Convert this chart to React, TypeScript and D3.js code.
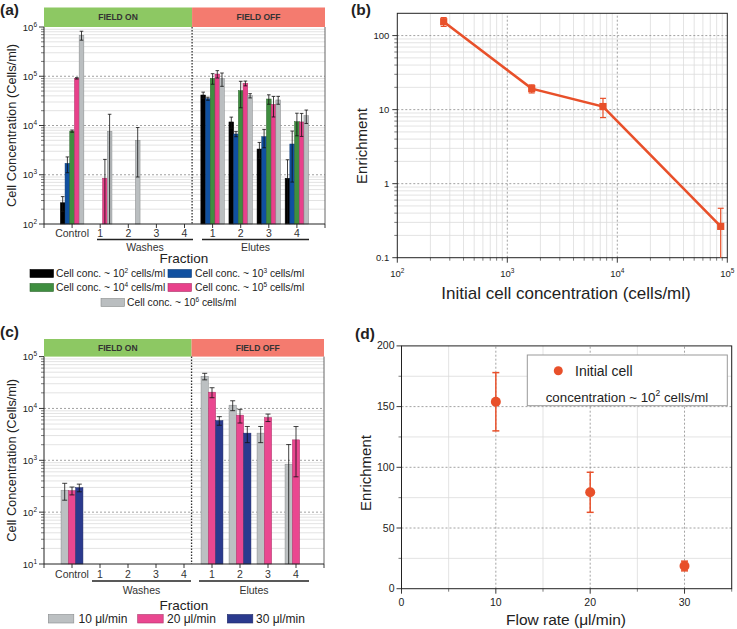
import React from 'react';
import * as d3 from 'd3';

// ---------- DATA ----------
const fractionLabels = ["Control", "1", "2", "3", "4", "1", "2", "3", "4"];
const groupLabels = ["Washes", "Elutes"];
const fieldLabels = ["FIELD ON", "FIELD OFF"];

// Panel (a): cell concentration by initial concentration (cells/ml)
const concExponents = ["2", "3", "4", "5", "6"];
const conc1e2 = [270, null, null, null, null, 41600, 11800, 3330, 847];
const conc1e2Err = [90, null, null, null, null, 6000, 3000, 1200, 1170];
const conc1e3 = [1700, null, null, null, null, 35000, 6720, 5930, 4210];
const conc1e3Err = [600, null, null, null, null, 2500, 800, 2400, 3500];
const conc1e4 = [7700, null, null, null, null, 90800, 50900, 34500, 11960];
const conc1e4Err = [400, null, null, null, null, 22000, 28000, 7500, 5800];
const conc1e5 = [90700, 850, null, null, null, 111000, 71800, 26900, 11800];
const conc1e5Err = [3000, 1200, null, null, null, 19000, 8000, 12000, 5800];
const conc1e6 = [680000, 7600, 5000, null, null, 89400, 40300, 33000, 15800];
const conc1e6Err = [140000, 9300, 4100, null, null, 27000, 4000, 6000, 4800];

// Panel (b): enrichment vs initial concentration
const initialConc = [264, 1667, 7410, 87100];
const enrichConc = [154, 19.2, 11.0, 0.265];
const enrichConcErr = [21, 2.4, 3.2, 0.2];

// Panel (c): cell concentration by flow rate
const flowLabels = ["10 \u03bcl/min", "20 \u03bcl/min", "30 \u03bcl/min"];
const flow10 = [265, null, null, null, null, 41600, 11560, 3340, 841];
const flow10Err = [95, null, null, null, null, 6000, 2500, 1150, 1170];
const flow20 = [260, null, null, null, null, 20600, 7430, 6690, 2480];
const flow20Err = [45, null, null, null, null, 4500, 2200, 1100, 2000];
const flow30 = [297, null, null, null, null, 5840, 3340, null, null];
const flow30Err = [50, null, null, null, null, 1100, 1150, null, null];

// Panel (d): enrichment vs flow rate
const flowRates = [10, 20, 30];
const enrichFlow = [154, 79.4, 18.7];
const enrichFlowErr = [24, 16.5, 4];

// ---------- STYLE ----------
const FONT = "'Liberation Sans', Arial, Helvetica, sans-serif";
const colorsA = ["#000000", "#1050a0", "#3f8e40", "#e8418b", "#babec0"];
const colorsC = ["#bcc0c2", "#ea4790", "#2b3a8e"];
const ORANGE = "#e8502a";
const GREEN_BAND = "#8dc863";
const RED_BAND = "#f47b6f";
const MINOR = "#dcdcdc";
const MAJOR = "#8a8a8a";

function minorLogValues(lo: number, hi: number) {
  const out: number[] = [];
  for (let d = Math.floor(Math.log10(lo)); d <= Math.ceil(Math.log10(hi)); d++) {
    for (let m = 2; m <= 9; m++) {
      const v = m * Math.pow(10, d);
      if (v > lo && v < hi) out.push(v);
    }
  }
  return out;
}
function decades(lo: number, hi: number) {
  const out: number[] = [];
  for (let d = Math.ceil(Math.log10(lo) - 1e-9); d <= Math.floor(Math.log10(hi) + 1e-9); d++) out.push(Math.pow(10, d));
  return out;
}

function SupText(props: any) {
  const { x, y, base, exp, after, fs, anchor, supFs, fill, weight } = props;
  const sh = fs * 0.42;
  return (
    <text x={x} y={y} fontSize={fs} textAnchor={anchor || 'start'} fill={fill || '#222'} fontFamily={FONT} fontWeight={weight}>
      {base}
      <tspan dy={-sh} fontSize={supFs || fs * 0.65}>{exp}</tspan>
      {after ? <tspan dy={sh}>{after}</tspan> : <tspan dy={sh}>{''}</tspan>}
    </text>
  );
}

function BarPanel(props: any) {
  const { cfg, series, errors, colors } = props;
  const x = d3.scaleLinear().domain([-1, 9]).range([cfg.x0, cfg.x1]);
  const y = d3.scaleLog().domain(cfg.dom).range([cfg.yBot, cfg.yTop]);
  const sepX = x(cfg.sepIdx);
  const n = series.length;
  const majors = decades(cfg.dom[0], cfg.dom[1]);
  const minors = minorLogValues(cfg.dom[0], cfg.dom[1]);
  const [dmin] = cfg.dom;
  return (
    <g fontFamily={FONT}>
      {/* bands */}
      <rect x={cfg.x0} y={cfg.bandTop} width={sepX - cfg.x0} height={cfg.yTop - cfg.bandTop} fill={GREEN_BAND} />
      <rect x={sepX} y={cfg.bandTop} width={cfg.x1 - sepX} height={cfg.yTop - cfg.bandTop} fill={RED_BAND} />
      <text x={(cfg.x0 + sepX) / 2} y={(cfg.bandTop + cfg.yTop) / 2 + 3} fontSize={8.5} fontWeight="bold" textAnchor="middle" fill="#333">{fieldLabels[0]}</text>
      <text x={(sepX + cfg.x1) / 2} y={(cfg.bandTop + cfg.yTop) / 2 + 3} fontSize={8.5} fontWeight="bold" textAnchor="middle" fill="#333">{fieldLabels[1]}</text>
      {/* grid */}
      {minors.map((v, i) => <line key={'mn' + i} x1={cfg.x0} x2={cfg.x1} y1={y(v)} y2={y(v)} stroke={MINOR} strokeWidth={0.8} />)}
      {majors.filter(v => v > dmin && v < cfg.dom[1]).map((v, i) => <line key={'mj' + i} x1={cfg.x0} x2={cfg.x1} y1={y(v)} y2={y(v)} stroke={MAJOR} strokeWidth={0.8} strokeDasharray="2,2" />)}
      {/* bars */}
      {series.map((s: any[], k: number) => s.map((v: number | null, i: number) => {
        if (v == null) return null;
        const bx = x(i) + (k - n / 2) * cfg.barW;
        return <rect key={'b' + k + '_' + i} x={bx} y={y(v)} width={cfg.barW} height={cfg.yBot - y(v)} fill={colors[k]} stroke={d3.color(colors[k])!.darker(0.9).toString()} strokeWidth={0.5} />;
      }))}
      {/* error bars */}
      {series.map((s: any[], k: number) => s.map((v: number | null, i: number) => {
        const e = errors[k][i];
        if (v == null || e == null) return null;
        const cx = x(i) + (k - n / 2 + 0.5) * cfg.barW;
        const yt = y(v + e);
        const low = v - e;
        const yb = low > dmin ? y(low) : cfg.yBot;
        const c = cfg.capW / 2;
        return (
          <g key={'e' + k + '_' + i} stroke="#111" strokeWidth={0.8}>
            <line x1={cx} x2={cx} y1={yt} y2={yb} />
            <line x1={cx - c} x2={cx + c} y1={yt} y2={yt} />
            {low > dmin ? <line x1={cx - c} x2={cx + c} y1={yb} y2={yb} /> : null}
          </g>
        );
      }))}
      {/* separator */}
      <line x1={sepX} x2={sepX} y1={cfg.yTop} y2={cfg.yBot} stroke="#333" strokeWidth={1.3} strokeDasharray="1.5,1.5" />
      {/* frame */}
      <line x1={cfg.x1} x2={cfg.x1} y1={cfg.yTop} y2={cfg.yBot} stroke="#555" strokeWidth={0.9} />
      <line x1={cfg.x0} x2={cfg.x0} y1={cfg.yTop} y2={cfg.yBot} stroke="#222" strokeWidth={1} />
      <line x1={cfg.x0} x2={cfg.x1} y1={cfg.yBot} y2={cfg.yBot} stroke="#222" strokeWidth={1} />
      {/* y ticks */}
      {majors.map((v, i) => (
        <g key={'yt' + i}>
          <line x1={cfg.x0 - 5} x2={cfg.x0} y1={y(v)} y2={y(v)} stroke="#222" strokeWidth={0.9} />
          <SupText x={cfg.x0 - 7} y={y(v) + 3.5} base="10" exp={String(Math.round(Math.log10(v)))} fs={9.5} supFs={6.5} anchor="end" />
        </g>
      ))}
      {minors.map((v, i) => <line key={'ym' + i} x1={cfg.x0 - 3} x2={cfg.x0} y1={y(v)} y2={y(v)} stroke="#222" strokeWidth={0.6} />)}
      {/* x ticks */}
      {d3.range(-1, 10).map(i => <line key={'xt' + i} x1={x(i)} x2={x(i)} y1={cfg.yBot} y2={cfg.yBot + 4} stroke="#222" strokeWidth={0.9} />)}
      {fractionLabels.map((l, i) => <text key={'xl' + i} x={x(i)} y={cfg.tickLabelY} fontSize={10.5} textAnchor="middle" fill="#333">{l}</text>)}
      {/* group underlines */}
      <line x1={cfg.washes[0]} x2={cfg.washes[1]} y1={cfg.lineY} y2={cfg.lineY} stroke="#222" strokeWidth={1.6} />
      <line x1={cfg.elutes[0]} x2={cfg.elutes[1]} y1={cfg.lineY} y2={cfg.lineY} stroke="#222" strokeWidth={1.6} />
      <text x={(cfg.washes[0] + cfg.washes[1]) / 2} y={cfg.groupLabelY} fontSize={10.5} textAnchor="middle" fill="#333">{groupLabels[0]}</text>
      <text x={(cfg.elutes[0] + cfg.elutes[1]) / 2} y={cfg.groupLabelY} fontSize={10.5} textAnchor="middle" fill="#333">{groupLabels[1]}</text>
      <text x={184} y={cfg.fractionY} fontSize={13.5} textAnchor="middle" fill="#222">Fraction</text>
      {/* y title */}
      <text transform={`translate(${cfg.yTitleX},${(cfg.yTop + cfg.yBot) / 2}) rotate(-90)`} fontSize={12.8} textAnchor="middle" fill="#222">Cell Concentration (Cells/ml)</text>
    </g>
  );
}

function PanelB() {
  const x = d3.scaleLog().domain([100, 1e5]).range([397.3, 727.3]);
  const y = d3.scaleLog().domain([0.1, 200]).range([257.7, 13.3]);
  const [x0, x1] = x.range();
  const [y0, y1] = y.range();
  const xMin = minorLogValues(100, 1e5);
  const yMin = minorLogValues(0.1, 200);
  const xMaj = decades(100, 1e5);
  const yMaj = decades(0.1, 200);
  const pts = initialConc.map((c, i) => [x(c), y(enrichConc[i])] as [number, number]);
  const line = d3.line()(pts);
  return (
    <g fontFamily={FONT}>
      {xMin.map((v, i) => <line key={'xm' + i} x1={x(v)} x2={x(v)} y1={y0} y2={y1} stroke={MINOR} strokeWidth={0.8} />)}
      {yMin.map((v, i) => <line key={'ym' + i} x1={x0} x2={x1} y1={y(v)} y2={y(v)} stroke={MINOR} strokeWidth={0.8} />)}
      {xMaj.slice(1, -1).map((v, i) => <line key={'xj' + i} x1={x(v)} x2={x(v)} y1={y0} y2={y1} stroke={MAJOR} strokeWidth={0.8} strokeDasharray="2,2" />)}
      {yMaj.slice(1).map((v, i) => <line key={'yj' + i} x1={x0} x2={x1} y1={y(v)} y2={y(v)} stroke={MAJOR} strokeWidth={0.8} strokeDasharray="2,2" />)}
      <rect x={x0} y={y1} width={x1 - x0} height={y0 - y1} fill="none" stroke="#222" strokeWidth={1} />
      {xMaj.map((v, i) => (
        <g key={'xt' + i}>
          <line x1={x(v)} x2={x(v)} y1={y0} y2={y0 + 5} stroke="#222" strokeWidth={0.9} />
          <SupText x={x(v)} y={277} base="10" exp={String(Math.round(Math.log10(v)))} fs={9.5} supFs={6.5} anchor="middle" />
        </g>
      ))}
      {xMin.map((v, i) => <line key={'xtm' + i} x1={x(v)} x2={x(v)} y1={y0} y2={y0 + 3} stroke="#222" strokeWidth={0.6} />)}
      {yMaj.map((v, i) => (
        <g key={'yt' + i}>
          <line x1={x0 - 5} x2={x0} y1={y(v)} y2={y(v)} stroke="#222" strokeWidth={0.9} />
          <text x={x0 - 8} y={y(v) + 3.3} fontSize={9.5} textAnchor="end" fill="#222">{v < 1 ? '0.1' : String(v)}</text>
        </g>
      ))}
      {yMin.map((v, i) => <line key={'ytm' + i} x1={x0 - 3} x2={x0} y1={y(v)} y2={y(v)} stroke="#222" strokeWidth={0.6} />)}
      <path d={line || ''} fill="none" stroke={ORANGE} strokeWidth={2.6} />
      {initialConc.map((c, i) => {
        const v = enrichConc[i], e = enrichConcErr[i];
        const cx = x(c);
        const yt = y(v + e);
        const low = v - e;
        const yb = low > 0.1 ? y(low) : y0;
        return (
          <g key={'p' + i}>
            <g stroke={ORANGE} strokeWidth={1.2}>
              <line x1={cx} x2={cx} y1={yt} y2={yb} />
              <line x1={cx - 3} x2={cx + 3} y1={yt} y2={yt} />
              {low > 0.1 ? <line x1={cx - 3} x2={cx + 3} y1={yb} y2={yb} /> : null}
            </g>
            <rect x={cx - 3.6} y={y(v) - 3.6} width={7.2} height={7.2} fill={ORANGE} />
          </g>
        );
      })}
      <text x={566} y={298.5} fontSize={17} textAnchor="middle" fill="#222">Initial cell concentration (cells/ml)</text>
      <text transform={`translate(367,146) rotate(-90)`} fontSize={15} textAnchor="middle" fill="#222">Enrichment</text>
    </g>
  );
}

function PanelD() {
  const x = d3.scaleLinear().domain([0, 35]).range([401.5, 731.7]);
  const y = d3.scaleLinear().domain([0, 200]).range([588.7, 345.9]);
  const [x0, x1] = x.range();
  const [y0, y1] = y.range();
  const xMaj = [0, 10, 20, 30];
  const xMin = [5, 15, 25, 35];
  const yMaj = [0, 50, 100, 150, 200];
  const yMin = [25, 75, 125, 175];
  return (
    <g fontFamily={FONT}>
      {xMin.map((v, i) => <line key={'xm' + i} x1={x(v)} x2={x(v)} y1={y0} y2={y1} stroke={MINOR} strokeWidth={0.8} />)}
      {yMin.map((v, i) => <line key={'ym' + i} x1={x0} x2={x1} y1={y(v)} y2={y(v)} stroke={MINOR} strokeWidth={0.8} />)}
      {xMaj.slice(1).map((v, i) => <line key={'xj' + i} x1={x(v)} x2={x(v)} y1={y0} y2={y1} stroke={MAJOR} strokeWidth={0.8} strokeDasharray="2,2" />)}
      {yMaj.slice(1, -1).map((v, i) => <line key={'yj' + i} x1={x0} x2={x1} y1={y(v)} y2={y(v)} stroke={MAJOR} strokeWidth={0.8} strokeDasharray="2,2" />)}
      <rect x={x0} y={y1} width={x1 - x0} height={y0 - y1} fill="none" stroke="#222" strokeWidth={1} />
      {xMaj.map((v, i) => (
        <g key={'xt' + i}>
          <line x1={x(v)} x2={x(v)} y1={y0} y2={y0 + 5} stroke="#222" strokeWidth={0.9} />
          <text x={x(v)} y={606} fontSize={10.5} textAnchor="middle" fill="#222">{v}</text>
        </g>
      ))}
      {xMin.map((v, i) => <line key={'xtm' + i} x1={x(v)} x2={x(v)} y1={y0} y2={y0 + 3} stroke="#222" strokeWidth={0.6} />)}
      {yMaj.map((v, i) => (
        <g key={'yt' + i}>
          <line x1={x0 - 5} x2={x0} y1={y(v)} y2={y(v)} stroke="#222" strokeWidth={0.9} />
          <text x={x0 - 7} y={y(v) + 3.5} fontSize={10.5} textAnchor="end" fill="#222">{v}</text>
        </g>
      ))}
      {yMin.map((v, i) => <line key={'ytm' + i} x1={x0 - 3} x2={x0} y1={y(v)} y2={y(v)} stroke="#222" strokeWidth={0.6} />)}
      {flowRates.map((f, i) => {
        const v = enrichFlow[i], e = enrichFlowErr[i];
        const cx = x(f);
        return (
          <g key={'p' + i}>
            <g stroke={ORANGE} strokeWidth={1.5}>
              <line x1={cx} x2={cx} y1={y(v + e)} y2={y(v - e)} />
              <line x1={cx - 3.5} x2={cx + 3.5} y1={y(v + e)} y2={y(v + e)} />
              <line x1={cx - 3.5} x2={cx + 3.5} y1={y(v - e)} y2={y(v - e)} />
            </g>
            <circle cx={cx} cy={y(v)} r={5} fill={ORANGE} />
          </g>
        );
      })}
      {/* legend */}
      <rect x={527.3} y={355} width={200} height={50.7} fill="#fff" stroke="#999" strokeWidth={1} />
      <circle cx={558.3} cy={370.7} r={4.5} fill={ORANGE} />
      <text x={575} y={375.5} fontSize={14} fill="#222">Initial cell</text>
      <SupText x={627} y={402} base="concentration ~ 10" exp="2" after=" cells/ml" fs={13.3} supFs={8.5} anchor="middle" />
      <text x={566} y={624.5} fontSize={15.5} textAnchor="middle" fill="#222">{"Flow rate (\u03bcl/min)"}</text>
      <text transform={`translate(371,473) rotate(-90)`} fontSize={15} textAnchor="middle" fill="#222">Enrichment</text>
    </g>
  );
}

const cfgA = {
  x0: 44, x1: 325, yTop: 27, yBot: 224, bandTop: 7.5, dom: [1e2, 1e6], sepIdx: 4.27,
  barW: 4.7, capW: 3.6, tickLabelY: 236.5, lineY: 239.5, groupLabelY: 250.5, fractionY: 263,
  washes: [97, 193], elutes: [202, 309], yTitleX: 15.5,
};
const cfgC = {
  x0: 44, x1: 324, yTop: 356.6, yBot: 564, bandTop: 339, dom: [10, 1e5], sepIdx: 4.27,
  barW: 7.3, capW: 5, tickLabelY: 577.5, lineY: 581, groupLabelY: 593.5, fractionY: 610,
  washes: [92, 191], elutes: [199, 309], yTitleX: 15.5,
};

function LegendA() {
  const rows = [
    { sx: 30, tx: 56, y: 269.5, k: 0 },
    { sx: 168, tx: 195, y: 269.5, k: 1 },
    { sx: 30, tx: 56, y: 283.5, k: 2 },
    { sx: 168, tx: 195, y: 283.5, k: 3 },
    { sx: 101, tx: 127, y: 298.5, k: 4 },
  ];
  return (
    <g fontFamily={FONT}>
      {rows.map(r => (
        <g key={'la' + r.k}>
          <rect x={r.sx} y={r.y} width={23.5} height={8} fill={colorsA[r.k]} stroke={d3.color(colorsA[r.k])!.darker(0.9).toString()} strokeWidth={0.6} />
          <SupText x={r.tx} y={r.y + 7.8} base="Cell conc. ~ 10" exp={concExponents[r.k]} after=" cells/ml" fs={10.3} supFs={6.5} />
        </g>
      ))}
    </g>
  );
}

function LegendC() {
  const items = [
    { sx: 48.3, tx: 78.5 },
    { sx: 137.7, tx: 167 },
    { sx: 227.3, tx: 256 },
  ];
  return (
    <g fontFamily={FONT}>
      {items.map((it, k) => (
        <g key={'lc' + k}>
          <rect x={it.sx} y={614.5} width={25.5} height={8.5} fill={colorsC[k]} stroke={d3.color(colorsC[k])!.darker(0.9).toString()} strokeWidth={0.6} />
          <text x={it.tx} y={623} fontSize={12} fill="#222">{flowLabels[k]}</text>
        </g>
      ))}
    </g>
  );
}

export default function App() {
  const seriesA = [conc1e2, conc1e3, conc1e4, conc1e5, conc1e6];
  const errA = [conc1e2Err, conc1e3Err, conc1e4Err, conc1e5Err, conc1e6Err];
  const seriesC = [flow10, flow20, flow30];
  const errC = [flow10Err, flow20Err, flow30Err];
  return (
    <svg width={737} height={629} style={{ position: 'absolute', left: 0, top: 0, background: '#fff' }} fontFamily={FONT}>
      <rect x={0} y={0} width={737} height={629} fill="#fff" />
      <BarPanel cfg={cfgA} series={seriesA} errors={errA} colors={colorsA} />
      <LegendA />
      <BarPanel cfg={cfgC} series={seriesC} errors={errC} colors={colorsC} />
      <LegendC />
      <PanelB />
      <PanelD />
      <text x={0} y={15} fontSize={15.5} fontWeight="bold" fill="#222">(a)</text>
      <text x={351} y={15} fontSize={15.5} fontWeight="bold" fill="#222">(b)</text>
      <text x={0} y={337} fontSize={15.5} fontWeight="bold" fill="#222">(c)</text>
      <text x={355} y={339} fontSize={15.5} fontWeight="bold" fill="#222">(d)</text>
    </svg>
  );
}
